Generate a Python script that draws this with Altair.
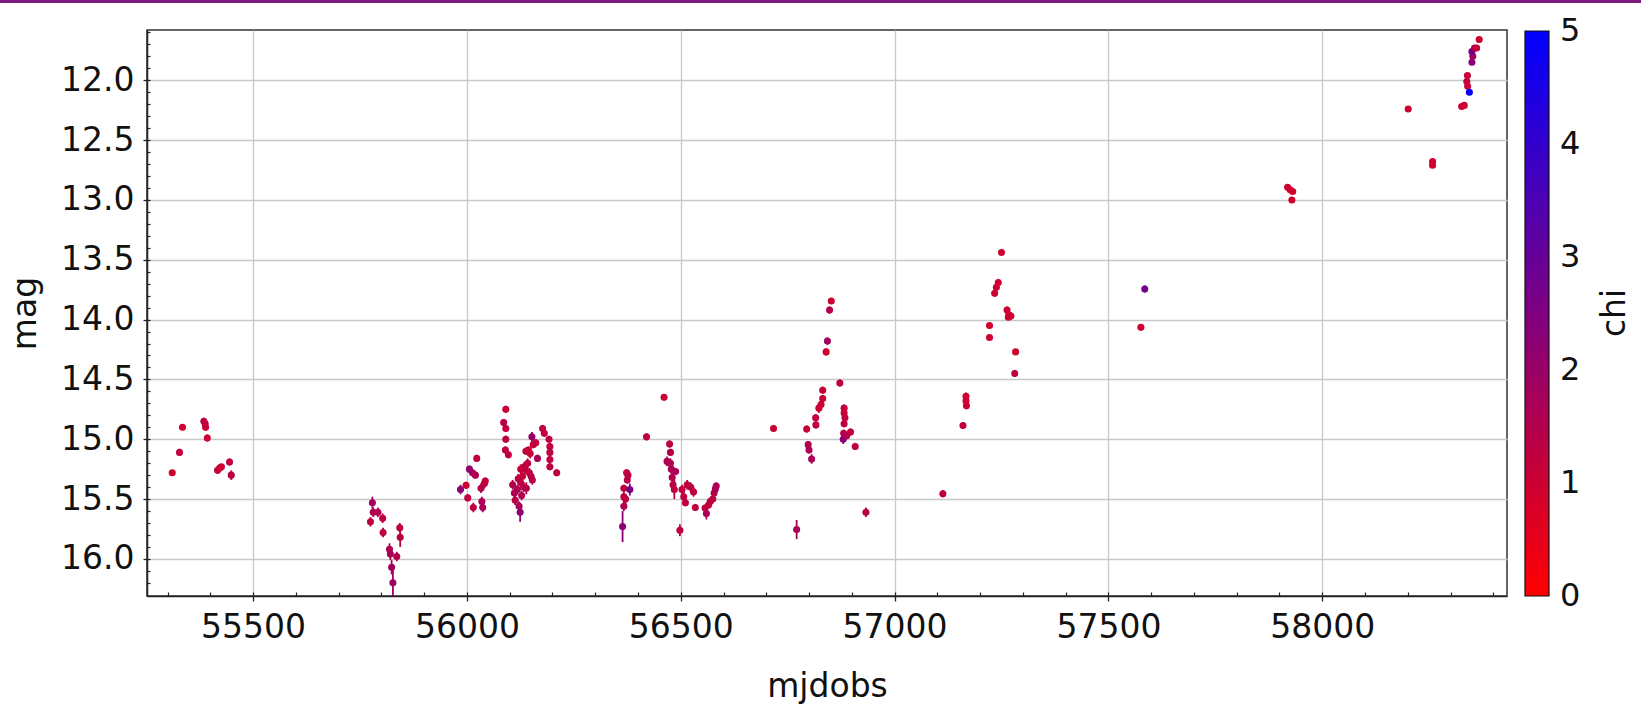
import altair as alt
import pandas as pd

# ---- data ----
mjd = [55311, 55328, 55335, 55385, 55388, 55389, 55393, 55417, 55422, 55426, 55445, 55449,
       55774.5, 55779, 55781, 55792, 55803, 55804, 55819, 55821, 55824, 55827, 55836, 55843, 55844,
       55985, 55998, 56002, 56006, 56013, 56020, 56015, 56023, 56033, 56035, 56037, 56041, 56043,
       56086, 56091, 56091, 56091, 56090, 56097, 56107, 56111, 56113, 56118, 56122, 56124.5, 56126,
       56130, 56134, 56136, 56139, 56138, 56144, 56150, 56152, 56155, 56161, 56165, 56177, 56181,
       56192, 56194, 56194, 56194, 56194, 56210, 56153, 56126, 56120, 56128, 56133, 56142, 56146, 56148,
       56364, 56367, 56367, 56367, 56371, 56373.5, 56376.5, 56375, 56381, 56420, 56461,
       56474, 56476, 56468, 56476, 56478, 56480, 56482, 56485, 56488, 56498, 56503, 56507, 56511,
       56515, 56523, 56530, 56534, 56557, 56560, 56565, 56569, 56575, 56578, 56581, 56583,
       56717, 56771, 56794.5, 56798, 56800, 56806, 56815.5, 56816, 56823, 56828, 56832, 56832,
       56840, 56843, 56848, 56852, 56872, 56882, 56882, 56884, 56882, 56881, 56880, 56888, 56897,
       56908, 56933,
       57113, 57160, 57167, 57167, 57168, 57222, 57222, 57234, 57238, 57242.5, 57250, 57263, 57267,
       57272, 57266, 57283, 57281,
       57576, 57585, 57919, 57925, 57931, 57929,
       58201, 58258, 58258, 58326, 58332, 58339.5, 58338, 58340, 58344, 58350, 58352, 58350, 58356,
       58361, 58367]
mag = [15.28, 15.11, 14.90, 14.85, 14.87, 14.90, 14.99, 15.26, 15.24, 15.23, 15.19, 15.30,
       15.69, 15.53, 15.61, 15.61, 15.66, 15.78, 15.92, 15.96, 16.07, 16.20, 15.98, 15.74, 15.82,
       15.42, 15.385, 15.49, 15.25, 15.28, 15.30, 15.57, 15.16, 15.41, 15.52, 15.57, 15.37, 15.35,
       14.86, 14.75, 14.91, 15.00, 15.09, 15.13, 15.38, 15.45, 15.51, 15.42, 15.56, 15.61, 15.365,
       15.31, 15.23, 15.25, 15.41, 15.10, 15.09, 15.31, 14.98, 15.045, 15.03, 15.16, 14.91, 14.95,
       15.00, 15.06, 15.11, 15.17, 15.23, 15.28, 15.34, 15.25, 15.33, 15.47, 15.40, 15.20, 15.28, 15.12,
       15.73, 15.56, 15.48, 15.41, 15.50, 15.28, 15.30, 15.34, 15.42, 14.98, 14.65,
       15.04, 15.11, 15.185, 15.20, 15.25, 15.32, 15.38, 15.42, 15.27, 15.76, 15.42, 15.48, 15.53,
       15.38, 15.40, 15.44, 15.57, 15.575, 15.62, 15.55, 15.52, 15.50, 15.45, 15.415, 15.39,
       14.91, 15.755, 14.915, 15.045, 15.09, 15.165, 14.82, 14.88, 14.74, 14.71, 14.66, 14.59,
       14.27, 14.18, 13.92, 13.845, 14.53, 14.74, 14.78, 14.82, 14.87, 14.95, 15.00, 14.97, 14.94,
       15.06, 15.61,
       15.455, 14.885, 14.64, 14.68, 14.72, 14.05, 14.15, 13.78, 13.73, 13.69, 13.44, 13.92, 13.96,
       13.97, 13.98, 14.27, 14.45,
       14.065, 13.745, 12.895, 12.915, 12.93, 13.00,
       12.24, 12.68, 12.71, 12.22, 12.21, 11.96, 12.01, 12.05, 12.10, 11.85, 11.80, 11.76, 11.73,
       11.73, 11.66]
err = [0.02, 0.03, 0.02, 0.03, 0.03, 0.03, 0.03, 0.03, 0.03, 0.02, 0.03, 0.04,
       0.04, 0.05, 0.04, 0.04, 0.04, 0.04, 0.05, 0.05, 0.06, 0.12, 0.04, 0.04, 0.08,
       0.04, 0.03, 0.03, 0.03, 0.03, 0.03, 0.04, 0.03, 0.04, 0.04, 0.04, 0.04, 0.03,
       0.03, 0.03, 0.03, 0.03, 0.03, 0.03, 0.04, 0.04, 0.04, 0.04, 0.04, 0.08, 0.04,
       0.04, 0.04, 0.04, 0.05, 0.03, 0.03, 0.04, 0.04, 0.03, 0.03, 0.03, 0.03, 0.03,
       0.03, 0.03, 0.03, 0.03, 0.03, 0.03, 0.04, 0.04, 0.04, 0.04, 0.04, 0.04, 0.04, 0.04,
       0.13, 0.04, 0.04, 0.03, 0.04, 0.03, 0.03, 0.03, 0.05, 0.03, 0.02,
       0.03, 0.03, 0.04, 0.04, 0.04, 0.04, 0.04, 0.08, 0.03, 0.05, 0.04, 0.04, 0.03,
       0.04, 0.04, 0.04, 0.03, 0.03, 0.05, 0.03, 0.03, 0.03, 0.03, 0.03, 0.03,
       0.02, 0.08, 0.03, 0.03, 0.03, 0.04, 0.03, 0.03, 0.04, 0.03, 0.03, 0.03,
       0.03, 0.03, 0.03, 0.02, 0.03, 0.03, 0.03, 0.03, 0.03, 0.03, 0.04, 0.03, 0.03,
       0.03, 0.04,
       0.03, 0.03, 0.03, 0.03, 0.03, 0.02, 0.02, 0.03, 0.03, 0.03, 0.02, 0.03, 0.03,
       0.03, 0.02, 0.02, 0.03,
       0.02, 0.03, 0.02, 0.02, 0.02, 0.02,
       0.02, 0.02, 0.02, 0.02, 0.02, 0.02, 0.02, 0.02, 0.02, 0.02, 0.02, 0.02, 0.02,
       0.02, 0.02]
chi = [1.0, 1.2, 0.9, 1.3, 1.2, 1.1, 1.0, 1.2, 1.1, 1.0, 1.2, 1.3,
       1.3, 1.8, 1.6, 1.5, 1.3, 1.2, 1.6, 1.7, 1.8, 1.9, 1.5, 1.3, 1.4,
       2.2, 1.0, 1.2, 2.2, 1.8, 1.6, 1.2, 1.3, 1.5, 1.6, 1.7, 1.3, 1.2,
       1.4, 1.0, 1.2, 1.3, 1.3, 1.2, 1.5, 1.6, 1.4, 1.6, 1.7, 2.2, 1.3,
       1.1, 1.1, 1.2, 1.6, 1.2, 1.1, 1.6, 2.0, 1.1, 1.2, 1.7, 1.3, 1.2,
       1.2, 1.2, 1.3, 1.2, 1.3, 1.3, 1.4, 1.2, 1.3, 1.5, 1.4, 1.2, 1.3, 1.1,
       2.3, 1.5, 1.4, 1.2, 1.3, 1.2, 1.3, 1.4, 2.6, 1.3, 1.0,
       1.3, 1.4, 1.6, 1.5, 1.6, 1.5, 1.4, 1.3, 1.7, 1.3, 1.2, 1.2, 1.2,
       1.3, 1.4, 1.2, 1.3, 1.2, 1.6, 1.2, 1.4, 1.3, 1.5, 1.7, 1.6,
       1.0, 1.7, 1.1, 1.5, 1.6, 1.7, 1.2, 1.3, 1.0, 1.0, 1.1, 1.1,
       0.9, 1.8, 1.5, 1.0, 1.3, 1.1, 1.1, 1.3, 1.2, 1.4, 2.3, 1.5, 1.2,
       1.3, 1.4,
       1.3, 1.2, 0.9, 0.9, 1.0, 0.9, 0.9, 1.0, 1.0, 0.9, 0.9, 1.0, 0.9,
       0.9, 1.0, 1.0, 1.3,
       1.0, 2.7, 0.9, 0.9, 0.9, 1.0,
       1.0, 0.9, 0.9, 1.0, 1.0, 1.1, 1.2, 1.1, 4.9, 2.3, 1.8, 2.7, 1.5,
       1.2, 1.0]

x_ticks = [55500, 56000, 56500, 57000, 57500, 58000]
y_ticks = [12.0, 12.5, 13.0, 13.5, 14.0, 14.5, 15.0, 15.5, 16.0]
x_minor = list(range(55300, 58500, 100))
y_minor = [round(11.6 + 0.1 * i, 1) for i in range(47)]
# colourbar labels 0..5 (ends nudged a hair inside the domain so they sit centred)
chi_ticks = [0.004, 1, 2, 3, 4, 4.996]

df = pd.DataFrame({"mjdobs": mjd, "mag": mag, "err": err, "chi": chi})
df["lo"] = df["mag"] - df["err"]
df["hi"] = df["mag"] + df["err"]

W, H = 1360, 566
PL, PT, PR, PB = 147, 30, 134, 111
FONT = "DejaVu Sans"

xscale = alt.Scale(domain=[55252, 58432], nice=False, zero=False)
yscale = alt.Scale(domain=[11.58, 16.31], nice=False, zero=False, reverse=True)
cscale = alt.Scale(domain=[0, 5], range=["#ff0000", "#0000ff"], interpolate="rgb")

legend = alt.Legend(type="gradient", orient="none", legendX=1525 - PL, legendY=1,
                    direction="vertical", gradientLength=565,
                    gradientThickness=24, title=None, values=chi_ticks, format=".0f",
                    labelFontSize=32, labelFont=FONT, labelColor="#111",
                    labelOffset=11, labelBaseline="middle", padding=0, labelOverlap=False,
                    gradientStrokeColor="#111", gradientStrokeWidth=1.2)

errbars = alt.Chart(df).mark_rule(strokeWidth=1.8, clip=True).encode(
    x=alt.X("mjdobs:Q", scale=xscale,
            axis=alt.Axis(orient="bottom", values=x_minor, labels=False, domain=False,
                          grid=False, ticks=True, tickSize=4, offset=-4, tickColor="#222",
                          tickWidth=1.2, title=None)),
    y=alt.Y("lo:Q", scale=yscale,
            axis=alt.Axis(orient="left", values=y_minor, labels=False, domain=False,
                          grid=False, ticks=True, tickSize=3, offset=-3, tickColor="#222",
                          tickWidth=1.2, title=None)),
    y2="hi:Q",
    color=alt.Color("chi:Q", scale=cscale, legend=None),
)

points = alt.Chart(df).mark_circle(size=50, opacity=1, clip=True).encode(
    x=alt.X("mjdobs:Q", scale=xscale,
            axis=alt.Axis(orient="bottom", values=x_ticks, format="d", title="mjdobs",
                          grid=True, tickSize=5, labelPadding=10, titlePadding=26)),
    y=alt.Y("mag:Q", scale=yscale,
            axis=alt.Axis(orient="left", values=y_ticks, format=".1f", title="mag",
                          grid=True, tickSize=4, labelPadding=9, titlePadding=18)),
    color=alt.Color("chi:Q", scale=cscale, legend=legend),
)

topline = alt.Chart(pd.DataFrame({"k": [0]})).mark_rule(
    color="#7e1b7e", strokeWidth=3).encode(
    x=alt.value(-PL), x2=alt.value(W + PR), y=alt.value(-PT + 1.5))

chi_title = alt.Chart(pd.DataFrame({"t": ["chi"]})).mark_text(
    angle=270, fontSize=33, font=FONT, color="#111", baseline="middle", align="center").encode(
    text="t:N", x=alt.value(1615 - PL), y=alt.value(H / 2))

chart = alt.layer(errbars, points, topline, chi_title).resolve_axis(
    x="independent", y="independent").resolve_legend(color="independent").properties(
    width=W, height=H,
    padding={"left": PL, "top": PT, "right": PR, "bottom": PB},
    autosize=alt.AutoSizeParams(type="none"),
    background="white",
).configure_view(stroke="#333", strokeWidth=1.5).configure_axis(
    labelFont=FONT, titleFont=FONT, labelFontSize=33, titleFontSize=33,
    labelColor="#111", titleColor="#111", titleFontWeight="normal",
    gridColor="#c8c8c8", gridWidth=1.3, domainColor="#222", domainWidth=1.5,
    tickColor="#222", tickWidth=1.3,
)

chart.save("out.html", embed_options={"renderer": "svg", "actions": False})
